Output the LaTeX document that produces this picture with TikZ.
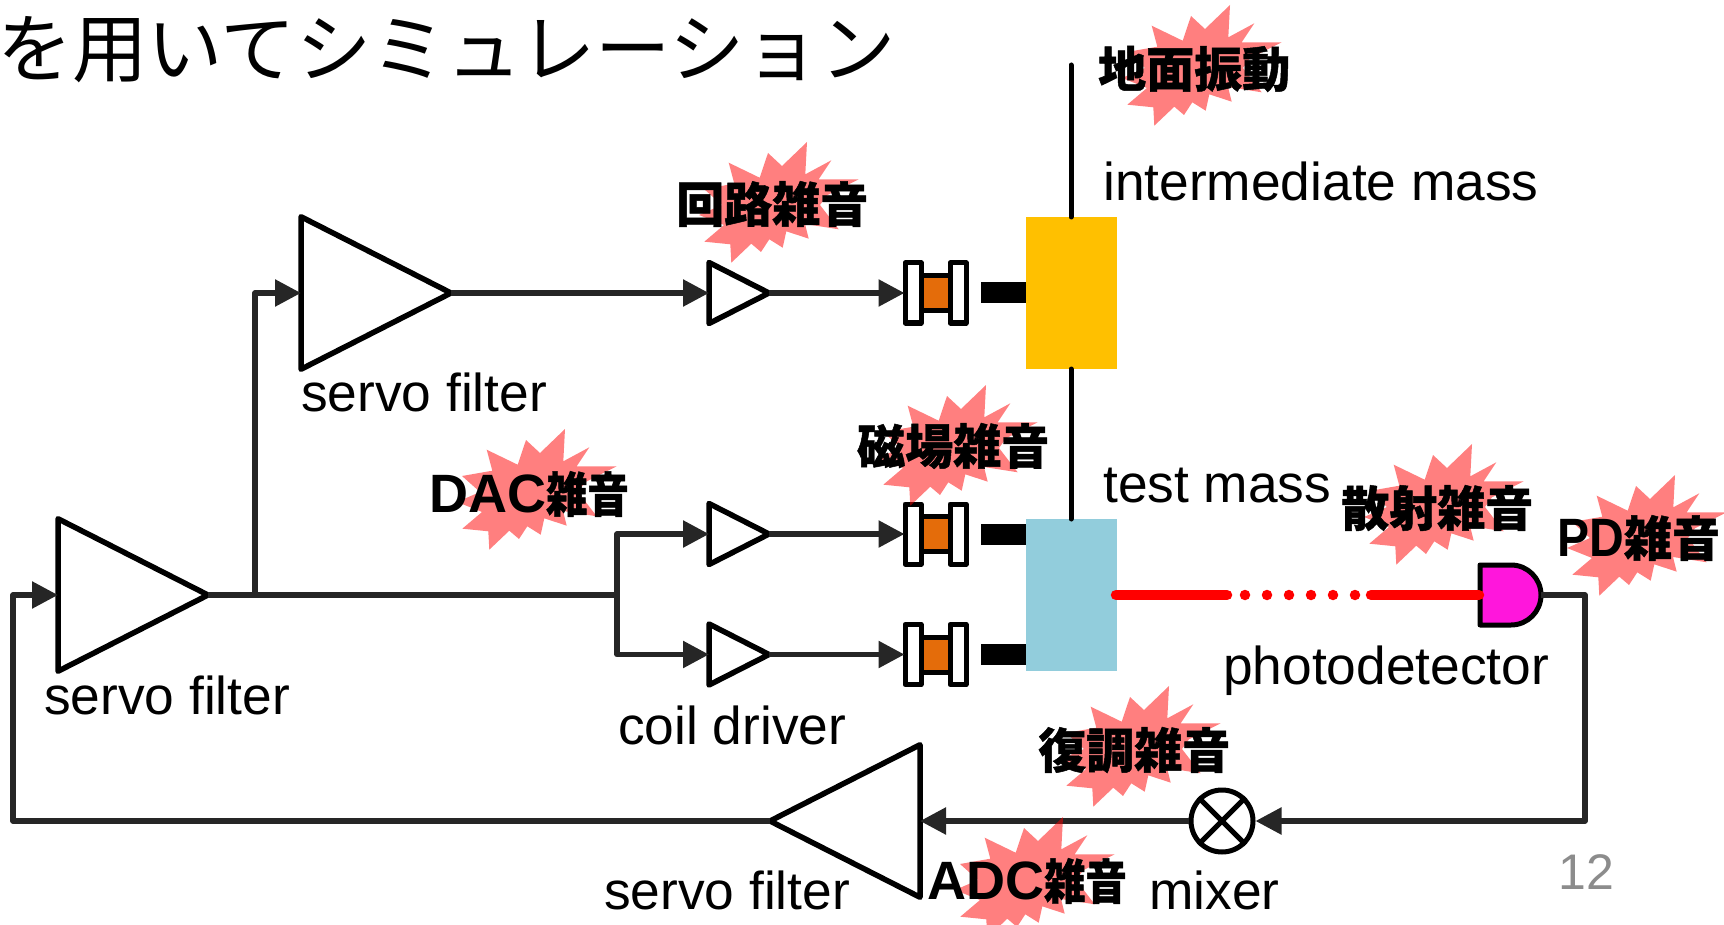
\documentclass[tikz,border=0pt]{standalone}
\usepackage{fontspec}
\setmainfont{Liberation Sans}
\newfontfamily\cjkfont[BoldFeatures={FakeBold=1}]{Noto Sans CJK JP}
\newfontfamily\cjknarrow[FakeStretch=0.86,BoldFeatures={FakeBold=1}]{Noto Sans CJK JP}
\newfontfamily\latinnarrow[FakeStretch=0.89]{Liberation Sans}
\usetikzlibrary{positioning,calc,arrows.meta,shapes.geometric}
\definecolor{wireline}{HTML}{262626}
\definecolor{massyellow}{HTML}{FFC000}
\definecolor{massblue}{HTML}{92CDDC}
\definecolor{coilorange}{HTML}{E46C0A}
\definecolor{pdmagenta}{HTML}{FF16DC}
\definecolor{pagenum}{HTML}{8C8C8C}
\tikzset{
  wire/.style={wireline,line width=5.5pt,line join=round},
  wirearrow/.style={wire,-{Triangle[length=26pt,width=26pt]}},
  amp/.style={isosceles triangle,isosceles triangle stretches,draw=black,fill=white,line width=5.5pt,line join=round,
    inner sep=0pt,outer sep=0pt,anchor=lower side},
  bigamp/.style={amp,minimum width=152.5pt,minimum height=150pt},
  smallamp/.style={amp,minimum width=61pt,minimum height=60pt},
  mass/.style={rectangle,inner sep=0pt,outer sep=0pt,minimum width=91pt,minimum height=152pt},
  laser/.style={red,line width=10.5pt,line cap=round},
  lab/.style={inner sep=0pt,anchor=base west,font=\fontsize{53.3}{60}\selectfont},
  noiselab/.style={inner sep=0pt,anchor=west,font=\fontsize{54}{60}\selectfont\bfseries},
  coil/.pic={
    \node[rectangle,draw=black,fill=coilorange,line width=5pt,inner sep=0pt,minimum width=34pt,minimum height=35pt] (-core) at (0,0) {};
    \node[rectangle,draw=black,fill=white,line width=5pt,line join=round,inner sep=0pt,minimum width=16pt,minimum height=60pt] (-lbar) at (-23,0) {};
    \node[rectangle,draw=black,fill=white,line width=5pt,line join=round,inner sep=0pt,minimum width=16pt,minimum height=60pt] (-rbar) at (22,0) {};
    \node[rectangle,fill=black,inner sep=0pt,outer sep=0pt,minimum width=45pt,minimum height=21pt] (-magnet) at (67.5,0) {};
  },
  noisestar/.pic={
    \fill[red,fill opacity=0.5] (30,-60) -- (28.3,-27.7) -- (54.3,-41.7) -- (41.7,-22.7) -- (81.7,-22.7) -- (50,-6.7)
      -- (43,3) -- (61.7,27.3) -- (28,22) -- (31.7,36.7) -- (9.3,29.3) -- (5.7,45.7) -- (-7.7,37.3) -- (-16,50)
      -- (-25.7,41.7) -- (-45.7,60.7) -- (-46.7,42.3) -- (-72.7,39.7) -- (-53,23) -- (-78,13) -- (-55,3) -- (-73,-13)
      -- (-42.7,-18.3) -- (-48.3,-39.3) -- (-17.3,-24.3) -- (-9,-49) -- (5,-36) -- cycle;
  },
}
\newcommand{\jp}[1]{{\cjkfont\fontsize{48}{60}\selectfont #1}}
\newcommand{\jpn}[1]{{\cjknarrow\fontsize{48}{60}\selectfont #1}}
\begin{document}
\begin{tikzpicture}[x=1pt,y=-1pt]
  \clip (0,0) rectangle (1724,925);
  % --- title
  \node[inner sep=0pt,anchor=west] (title) at (-3,50) {\cjkfont\fontsize{75.3}{80}\selectfont を用いてシミュレーション};
  % --- masses and suspension
  \coordinate (ceil) at (1071,65);
  \node[mass,fill=massyellow] (intermass) at (1071.5,293) {};
  \node[mass,fill=massblue] (testmass) at (1071.5,595) {};
  \draw[black,line width=5pt,line cap=round] (ceil) -- (ceil |- intermass.north);
  \draw[black,line width=5pt,line cap=round] (ceil |- intermass.south) -- (ceil |- testmass.north);
  % --- servo filters and coil drivers
  \node[bigamp] (servoA) at (58,595) {};
  \node[bigamp] (servoB) at (301,293) {};
  \node[bigamp,shape border rotate=180] (servoC) at (920,821) {};
  \node[smallamp] (driverA) at (709,293) {};
  \node[smallamp] (driverB) at (709,534) {};
  \node[smallamp] (driverC) at (709,654.5) {};
  \pic (coilA) at (936,293) {coil};
  \pic (coilB) at (936,534) {coil};
  \pic (coilC) at (936,654.5) {coil};
  % --- photodetector and mixer
  \coordinate (pdin) at (1479,595);
  \coordinate (pdout) at (1541,595);
  \draw[draw=black,fill=pdmagenta,line width=5pt,line join=round] (1480,565) -- (1511,565) arc (-90:90:30) -- (1480,625) -- cycle;
  \node[circle,draw=black,fill=white,line width=5pt,inner sep=0pt,minimum size=62pt] (mixer) at (1222,821) {};
  \draw[black,line width=5pt] (mixer.45) -- (mixer.225) (mixer.135) -- (mixer.315);
  % --- wires
  \coordinate (splitA) at (255,595);
  \coordinate (splitB) at (617,595);
  \coordinate (corner) at (1585,595);
  \coordinate (returnL) at (13,821);
  \draw[wire] (servoA.apex) -- (splitB);
  \draw[wirearrow] (splitA) |- (servoB.lower side);
  \draw[wirearrow] (servoB.apex) -- (driverA.lower side);
  \draw[wirearrow] (driverA.apex) -- ([xshift=2pt]coilA-lbar.west);
  \draw[wirearrow] (splitB) |- (driverB.lower side);
  \draw[wirearrow] (splitB) |- (driverC.lower side);
  \draw[wirearrow] (driverB.apex) -- ([xshift=2pt]coilB-lbar.west);
  \draw[wirearrow] (driverC.apex) -- ([xshift=2pt]coilC-lbar.west);
  \draw[wirearrow] (pdout) -- (corner) |- (mixer.east);
  \draw[wirearrow] (mixer.west) -- (servoC.lower side);
  \draw[wirearrow] (servoC.apex) -- (returnL) |- (servoA.lower side);
  % --- laser beam
  \coordinate (beamA) at (1227,595);
  \coordinate (dotsA) at (1245,595);
  \coordinate (dotsB) at (1356,595);
  \coordinate (beamB) at (1371,595);
  \draw[laser] ([xshift=-1pt]testmass.east) -- (beamA);
  \draw[laser,dash pattern=on 0pt off 22pt] (dotsA) -- (dotsB);
  \draw[laser] (beamB) -- (pdin);
  % --- noise stars
  \pic at (1200,65) {noisestar};
  \pic at (777,202) {noisestar};
  \pic at (956,445) {noisestar};
  \pic at (535,489) {noisestar};
  \pic at (1442,504) {noisestar};
  \pic at (1645,535) {noisestar};
  \pic at (1139,746) {noisestar};
  \pic at (1033,877) {noisestar};
  % --- labels
  \node[lab] (labA) at (44,714) {servo filter};
  \node[lab] (labB) at (301,411) {servo filter};
  \node[lab] (labC) at (604,909) {servo filter};
  \node[lab] (labD) at (618,744) {coil driver};
  \node[lab] (labE) at (1149,909) {mixer};
  \node[lab] (labF) at (1103,201) {intermediate mass};
  \node[lab] (labG) at (1103,502) {test mass};
  \node[lab] (labH) at (1223,684) {photodetector};
  \node[noiselab] (noiseA) at (1098,69) {\jp{地面振動}};
  \node[noiselab] (noiseB) at (676,204) {\jp{回路雑音}};
  \node[noiselab] (noiseC) at (857,446) {\jp{磁場雑音}};
  \node[noiselab] (noiseD) at (429,494) {DAC\jpn{雑音}};
  \node[noiselab] (noiseE) at (1341,508) {\jp{散射雑音}};
  \node[noiselab] (noiseF) at (1557,538) {{\latinnarrow\bfseries PD}\jp{雑音}};
  \node[noiselab] (noiseG) at (1038,750) {\jp{復調雑音}};
  \node[noiselab] (noiseH) at (927,881) {ADC\jpn{雑音}};
  \node[inner sep=0pt,text=pagenum,font=\fontsize{50}{60}\selectfont] (pagenr) at (1586,872) {12};
\end{tikzpicture}
\end{document}
